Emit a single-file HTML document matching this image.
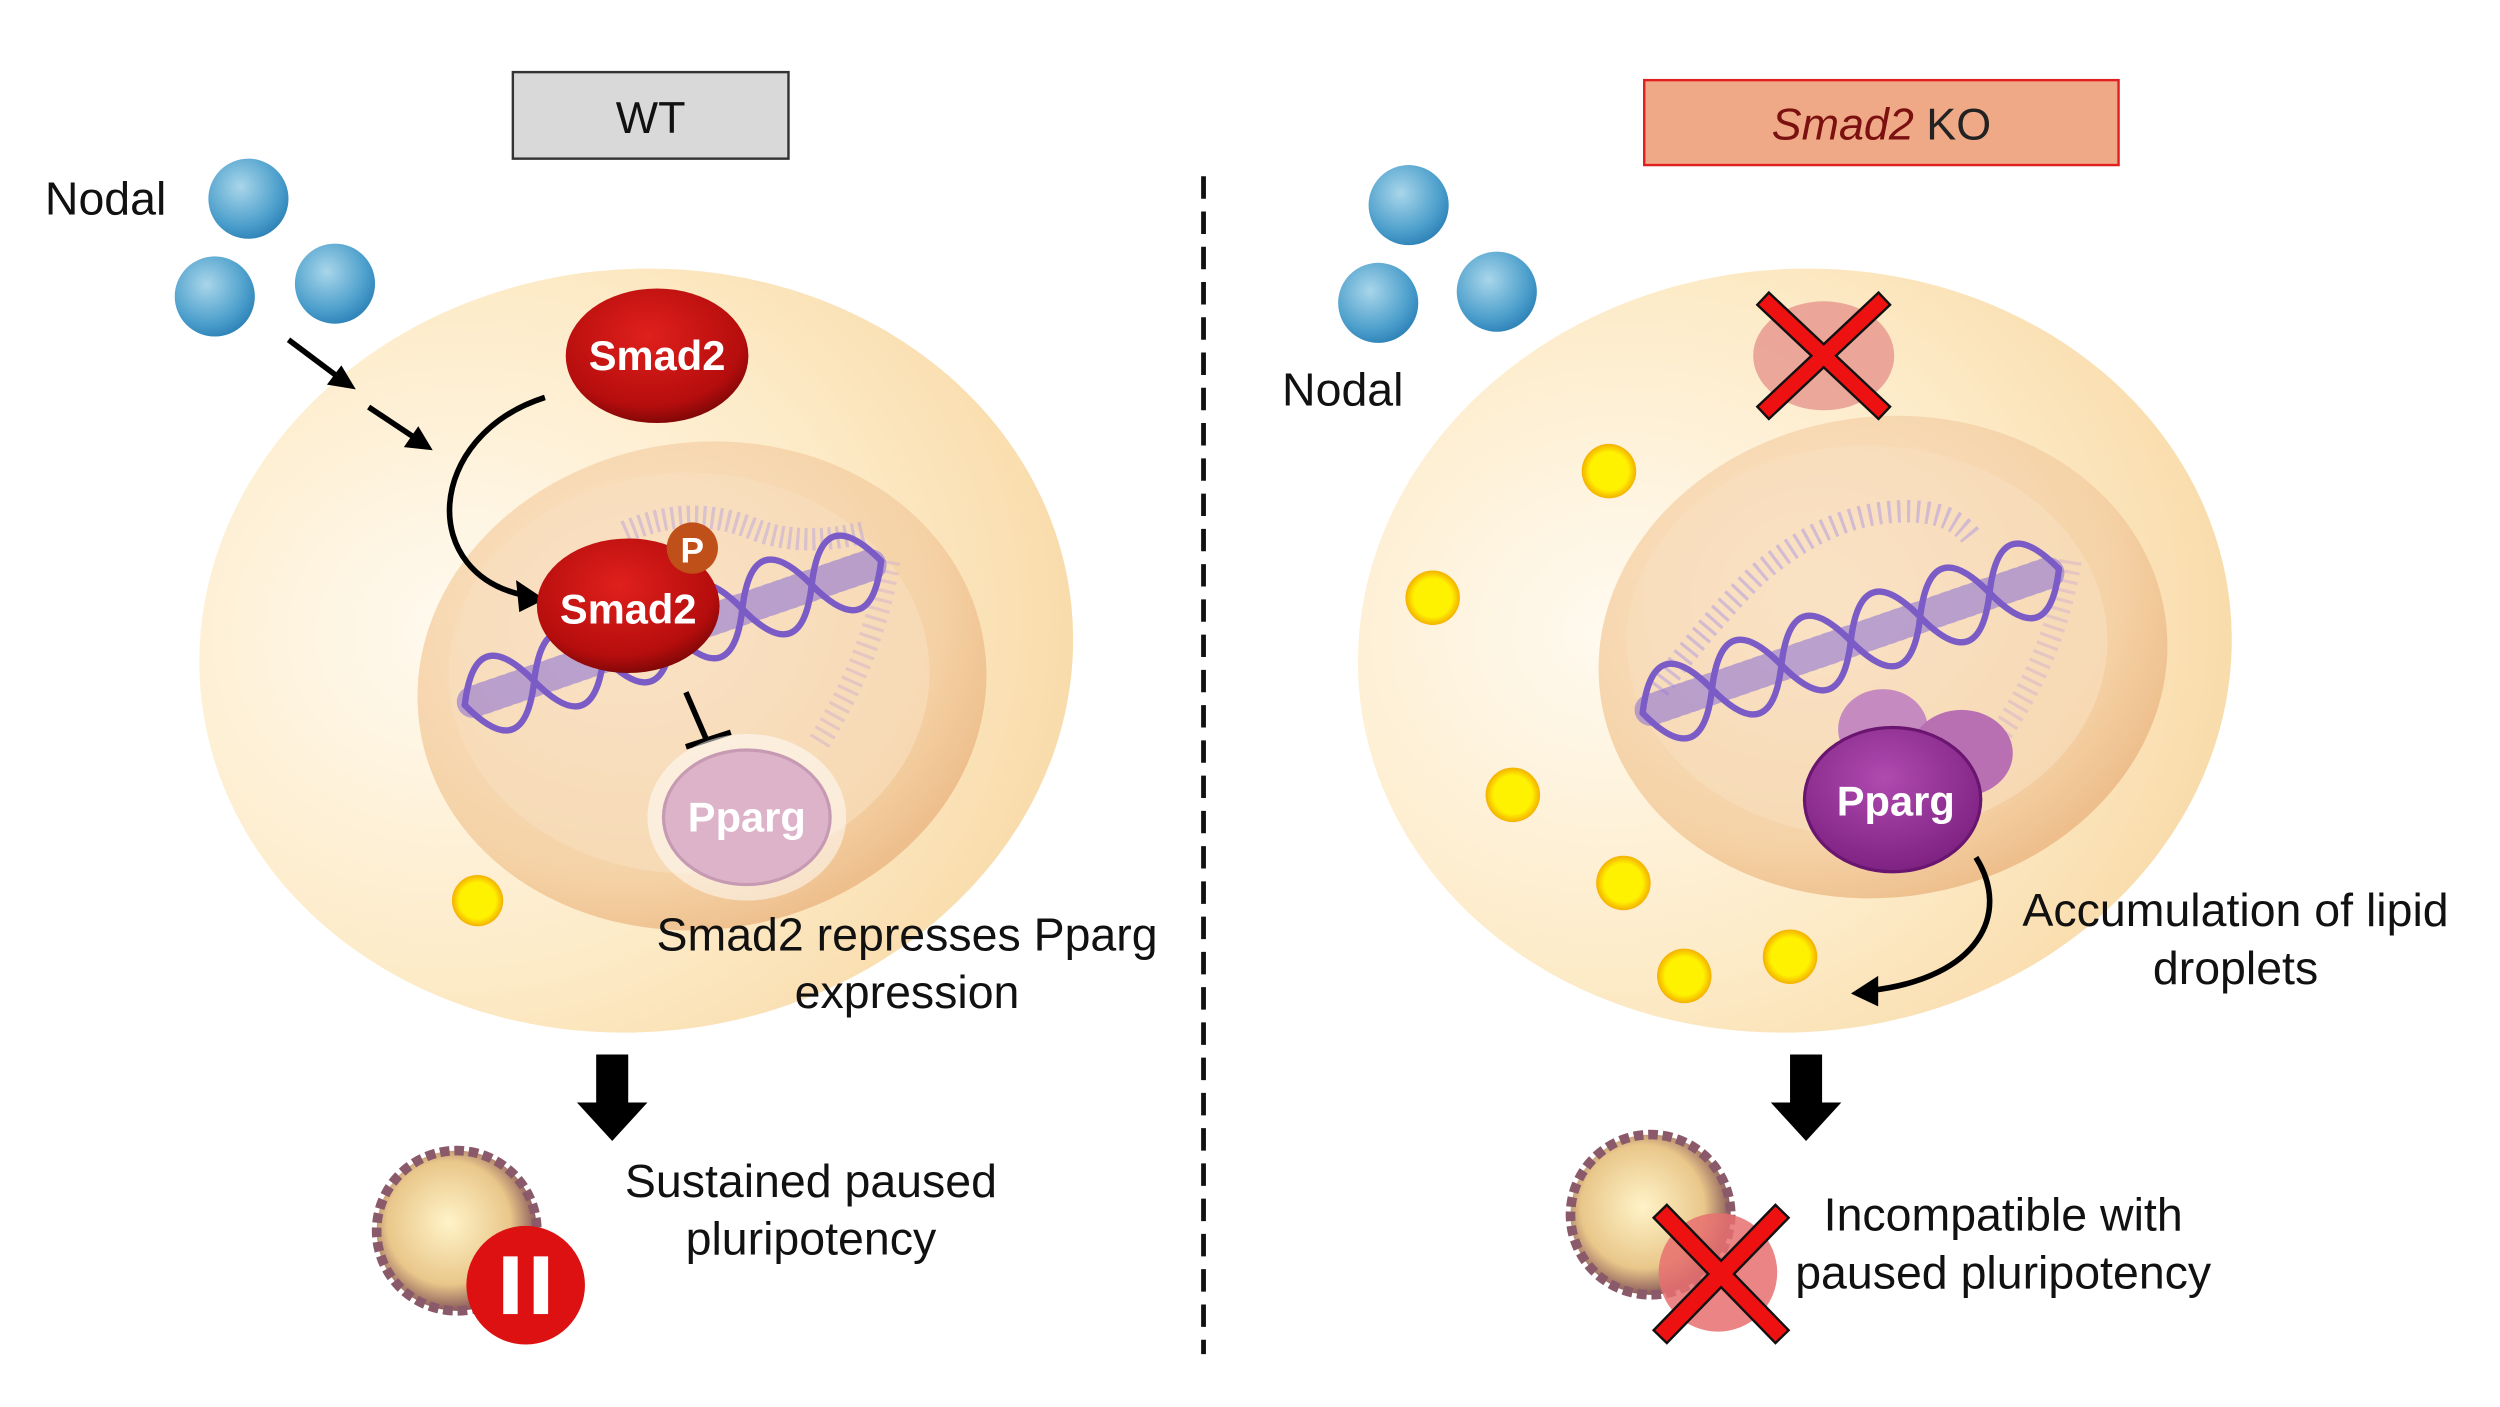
<!DOCTYPE html>
<html><head><meta charset="utf-8"><style>html,body{margin:0;padding:0;background:#fff}svg{display:block}</style></head>
<body>
<svg width="2500" height="1407" viewBox="0 0 1560 878" xmlns="http://www.w3.org/2000/svg" font-family="Liberation Sans, sans-serif">
<defs>
<radialGradient id="ball" cx="0.4" cy="0.35" r="0.7"><stop offset="0" stop-color="#a9d6ea"/><stop offset="0.7" stop-color="#4c9fcc"/><stop offset="1" stop-color="#2a7fb5"/></radialGradient>
<radialGradient id="cell" cx="0.3" cy="0.45" r="0.75"><stop offset="0" stop-color="#fffaf0"/><stop offset="0.6" stop-color="#fdebc8"/><stop offset="1" stop-color="#f8d9a6"/></radialGradient>
<radialGradient id="nuc" cx="0.4" cy="0.35" r="0.75"><stop offset="0" stop-color="#fbe6cc"/><stop offset="0.7" stop-color="#f5d2a6"/><stop offset="1" stop-color="#eab47e"/></radialGradient>
<radialGradient id="red" cx="0.45" cy="0.35" r="0.7"><stop offset="0" stop-color="#e0201c"/><stop offset="0.75" stop-color="#b50d0d"/><stop offset="1" stop-color="#6f0606"/></radialGradient>
<radialGradient id="purp" cx="0.45" cy="0.35" r="0.7"><stop offset="0" stop-color="#b04ab0"/><stop offset="1" stop-color="#7a1f7f"/></radialGradient>
<radialGradient id="yel" cx="0.5" cy="0.5" r="0.5"><stop offset="0.7" stop-color="#fff200"/><stop offset="1" stop-color="#f4b000"/></radialGradient>
<radialGradient id="blast" cx="0.45" cy="0.45" r="0.55"><stop offset="0" stop-color="#fff3c8"/><stop offset="0.7" stop-color="#e9c78a"/><stop offset="1" stop-color="#8a5a5a"/></radialGradient>
<g id="helix" fill="none" stroke-linecap="round">
<path d="M295,438 L545,352" stroke="#8f74d4" stroke-width="20" stroke-dasharray="2.5 4" opacity="0.6"/>
<path d="M290,440 Q327.3,477.9 333.3,425 Q339.4,372.1 376.6,410 Q413.9,447.9 419.9,395 Q426,342.1 463.2,380 Q500.5,417.9 506.5,365 Q512.6,312.1 549.8,350" stroke="#7b5cc6" stroke-width="4"/>
<path d="M290,440 Q296.1,387.1 333.3,425 Q370.6,462.9 376.6,410 Q382.7,357.1 419.9,395 Q457.2,432.9 463.2,380 Q469.3,327.1 506.5,365 Q543.8,402.9 549.8,350" stroke="#7b5cc6" stroke-width="4"/>
</g>
</defs>

<rect x="320" y="45" width="172" height="54" fill="#d9d9d9" stroke="#333" stroke-width="1.5"/>
<text x="406" y="83" font-size="28" text-anchor="middle" fill="#111">WT</text>
<rect x="1026" y="50" width="296" height="53" fill="#f0a986" stroke="#e02020" stroke-width="1.5"/>
<text x="1174" y="87" font-size="28" text-anchor="middle"><tspan font-style="italic" fill="#7a1010">Smad2</tspan><tspan fill="#222"> KO</tspan></text>

<line x1="751" y1="110" x2="751" y2="845" stroke="#111" stroke-width="3" stroke-dasharray="14 8"/>

<text x="28" y="134" font-size="29" fill="#111">Nodal</text>
<circle cx="155" cy="124" r="25" fill="url(#ball)"/>
<circle cx="134" cy="185" r="25" fill="url(#ball)"/>
<circle cx="209" cy="177" r="25" fill="url(#ball)"/>

<ellipse cx="397" cy="406" rx="273" ry="238" fill="url(#cell)" transform="rotate(-6 397 406)"/>
<ellipse cx="438" cy="428" rx="178" ry="152" fill="url(#nuc)" transform="rotate(-8 438 428)"/>
<ellipse cx="430" cy="420" rx="150" ry="125" fill="#f9dfbf" opacity="0.6"/>

<path d="M390,332 q40,-18 80,-2 q30,12 70,2" fill="none" stroke="#b9a3de" stroke-width="14" stroke-dasharray="2 3" opacity="0.5"/>
<path d="M555,350 q-10,60 -45,115" fill="none" stroke="#d8b8c8" stroke-width="14" stroke-dasharray="2 4" opacity="0.6"/>
<use href="#helix"/>

<ellipse cx="410" cy="222" rx="57" ry="42" fill="url(#red)"/>
<text x="410" y="231" font-size="26" font-weight="bold" fill="#fff" text-anchor="middle">Smad2</text>
<path d="M340,248 C265,272 260,360 330,372" fill="none" stroke="#000" stroke-width="3.5"/>
<polygon points="340,374 322,362 324,382" fill="#000"/>
<ellipse cx="392" cy="378" rx="57" ry="42" fill="url(#red)"/>
<text x="392" y="389" font-size="26" font-weight="bold" fill="#fff" text-anchor="middle">Smad2</text>
<circle cx="432" cy="342" r="16" fill="#c0501a"/>
<text x="432" y="351" font-size="22" font-weight="bold" fill="#fff" text-anchor="middle">P</text>

<g stroke="#000" stroke-width="3.5">
<line x1="180" y1="212" x2="212" y2="236"/><line x1="230" y1="254" x2="260" y2="274"/>
<line x1="428" y1="432" x2="441" y2="462"/><line x1="428" y1="466" x2="456" y2="457"/>
</g>
<polygon points="222,243 204,240 213,228" fill="#000"/>
<polygon points="270,281 252,279 261,266" fill="#000"/>

<ellipse cx="466" cy="510" rx="62" ry="52" fill="#fff" opacity="0.5"/>
<ellipse cx="466" cy="510" rx="52" ry="42" fill="#dcb3c8" stroke="#c79ab3" stroke-width="2"/>
<text x="466" y="519" font-size="26" font-weight="bold" fill="#fff" text-anchor="middle">Pparg</text>

<circle cx="298" cy="562" r="16" fill="url(#yel)"/>

<text font-size="29" fill="#111" text-anchor="middle"><tspan x="566" y="593">Smad2 represses Pparg</tspan><tspan x="566" y="629">expression</tspan></text>

<polygon points="372,658 392,658 392,688 404,688 382,712 360,688 372,688" fill="#000"/>
<circle cx="285" cy="768" r="50" fill="url(#blast)" stroke="#8a5a6a" stroke-width="6" stroke-dasharray="6 3"/>
<circle cx="328" cy="802" r="37" fill="#dd1111"/>
<rect x="314" y="784" width="9" height="36" fill="#fff"/><rect x="333" y="784" width="9" height="36" fill="#fff"/>
<text font-size="29" fill="#111" text-anchor="middle"><tspan x="506" y="747">Sustained paused</tspan><tspan x="506" y="783">pluripotency</tspan></text>

<circle cx="879" cy="128" r="25" fill="url(#ball)"/>
<circle cx="860" cy="189" r="25" fill="url(#ball)"/>
<circle cx="934" cy="182" r="25" fill="url(#ball)"/>
<text x="800" y="253" font-size="29" fill="#111">Nodal</text>

<ellipse cx="1120" cy="406" rx="273" ry="238" fill="url(#cell)" transform="rotate(-6 1120 406)"/>
<ellipse cx="1175" cy="410" rx="178" ry="150" fill="url(#nuc)" transform="rotate(-8 1175 410)"/>
<ellipse cx="1165" cy="400" rx="150" ry="122" fill="#f9dfbf" opacity="0.6"/>

<path d="M1035,430 q30,-40 60,-70 q40,-35 80,-40 q40,-5 55,15" fill="none" stroke="#b9a3de" stroke-width="14" stroke-dasharray="2 4" opacity="0.6"/>
<path d="M1292,350 q-10,60 -45,110" fill="none" stroke="#d8b8c8" stroke-width="14" stroke-dasharray="2 4" opacity="0.6"/>
<use href="#helix" transform="translate(735,5)"/>

<ellipse cx="1138" cy="222" rx="44" ry="34" fill="#e89a90" opacity="0.85"/>
<g stroke="#111" stroke-width="12" stroke-linecap="square"><line x1="1104" y1="190" x2="1172" y2="254"/><line x1="1172" y1="190" x2="1104" y2="254"/></g>
<g stroke="#ee1111" stroke-width="9" stroke-linecap="square"><line x1="1104" y1="190" x2="1172" y2="254"/><line x1="1172" y1="190" x2="1104" y2="254"/></g>

<g fill="url(#yel)">
<circle cx="1004" cy="294" r="17"/><circle cx="894" cy="373" r="17"/><circle cx="944" cy="496" r="17"/>
<circle cx="1013" cy="551" r="17"/><circle cx="1051" cy="609" r="17"/><circle cx="1117" cy="597" r="17"/>
</g>

<ellipse cx="1175" cy="455" rx="28" ry="25" fill="#c58bc0"/>
<ellipse cx="1224" cy="470" rx="32" ry="27" fill="#b970b2"/>
<ellipse cx="1181" cy="499" rx="55" ry="45" fill="url(#purp)" stroke="#6a1670" stroke-width="2"/>
<text x="1183" y="509" font-size="26" font-weight="bold" fill="#fff" text-anchor="middle">Pparg</text>

<path d="M1233,535 C1255,570 1235,610 1168,618" fill="none" stroke="#000" stroke-width="3.5"/>
<polygon points="1155,620 1172,609 1172,628" fill="#000"/>
<text font-size="29" fill="#111" text-anchor="middle"><tspan x="1395" y="578">Accumulation of lipid</tspan><tspan x="1395" y="614">droplets</tspan></text>

<polygon points="1117,658 1137,658 1137,688 1149,688 1127,712 1105,688 1117,688" fill="#000"/>
<circle cx="1030" cy="758" r="50" fill="url(#blast)" stroke="#8a5a6a" stroke-width="6" stroke-dasharray="6 3"/>
<circle cx="1072" cy="794" r="37" fill="#e87070" opacity="0.85"/>
<g stroke="#111" stroke-width="13" stroke-linecap="square"><line x1="1040" y1="760" x2="1108" y2="830"/><line x1="1108" y1="760" x2="1040" y2="830"/></g>
<g stroke="#ee1111" stroke-width="10" stroke-linecap="square"><line x1="1040" y1="760" x2="1108" y2="830"/><line x1="1108" y1="760" x2="1040" y2="830"/></g>
<text font-size="29" fill="#111" text-anchor="middle"><tspan x="1250" y="768">Incompatible with</tspan><tspan x="1250" y="804">paused pluripotency</tspan></text>
</svg>
</body></html>
